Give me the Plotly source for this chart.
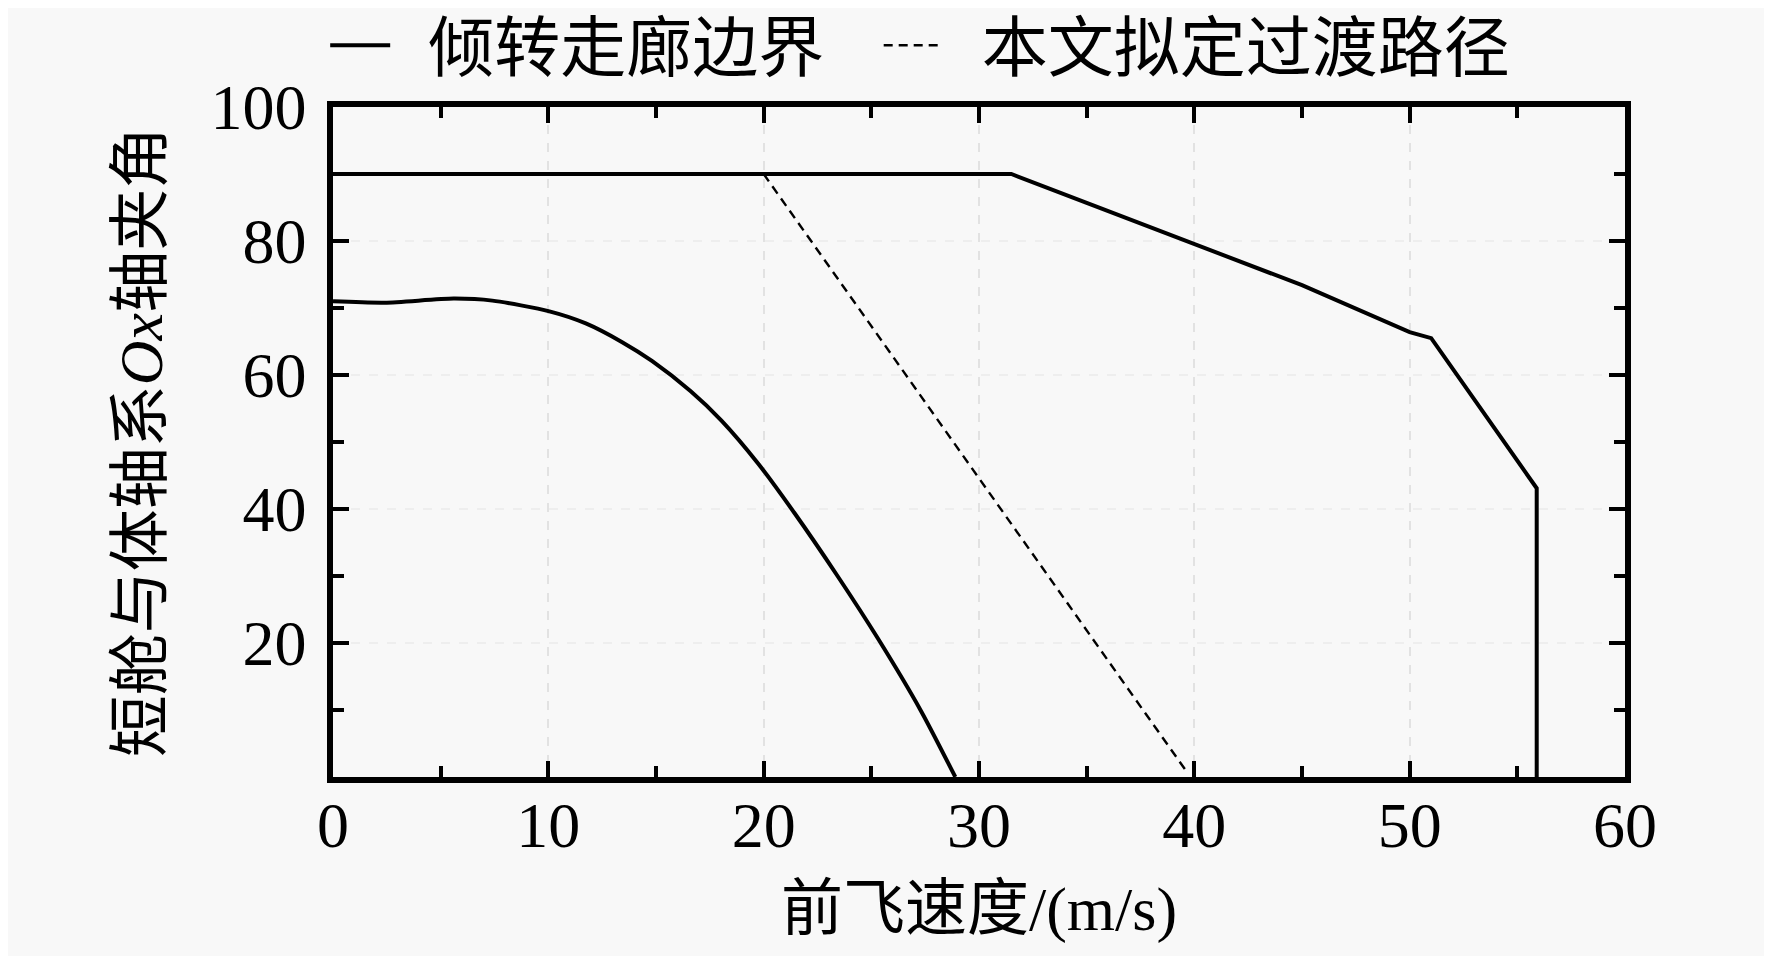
import plotly.graph_objects as go

# outer tilt corridor boundary (m/s, deg)
outer_v = [0, 31.5, 35, 40, 45, 50, 51, 55.9, 55.9]
outer_a = [90, 90, 85.7, 79.6, 73.4, 66.4, 65.5, 43.1, 0]

# inner tilt corridor boundary
inner_v = [0, 2.4, 5.6, 7.4, 10.05, 11.74, 13.43, 14.81, 16.6, 18.04, 19.74, 21.43, 23.43, 25.3, 27.3, 28.9]
inner_a = [71.0, 70.8, 71.4, 71.1, 69.5, 67.7, 64.9, 62.1, 57.6, 53.2, 46.8, 39.4, 30.0, 20.7, 9.9, 0]

# proposed transition path
path_v = [20, 39.6]
path_a = [90, 1]

x_ticks = [0, 10, 20, 30, 40, 50, 60]
y_ticks = [20, 40, 60, 80, 100]

FONT = "Liberation Serif, Noto Sans CJK SC"
BG = "#f8f8f8"
NB = "\u00a0"

fig = go.Figure()

fig.add_trace(go.Scatter(x=outer_v, y=outer_a, mode="lines", name=NB * 2 + "倾转走廊边界" + NB * 3,
                         line=dict(color="black", width=4)))
fig.add_trace(go.Scatter(x=inner_v, y=inner_a, mode="lines", showlegend=False,
                         line=dict(color="black", width=4, shape="spline", smoothing=0.7)))
fig.add_trace(go.Scatter(x=path_v, y=path_a, mode="lines", name=NB * 2 + "本文拟定过渡路径",
                         line=dict(color="black", width=2.4, dash="9px,6px")))

axis_common = dict(
    showline=True, linecolor="black", linewidth=5.5, mirror="allticks",
    ticks="inside", ticklen=16, tickwidth=3.5, tickcolor="black",
    showgrid=True, gridwidth=2, griddash="dash",
    zeroline=False,
    tickfont=dict(family=FONT, size=64, color="black"),
)

fig.update_xaxes(
    range=[0, 60], tickvals=x_ticks, gridcolor="#e2e2e2",
    minor=dict(dtick=5, ticks="inside", ticklen=11, tickwidth=3.5, tickcolor="black", showgrid=False),
    title=dict(text="前飞速度/(m/s)", font=dict(family=FONT, size=62, color="black"), standoff=29),
    ticklabelstandoff=-13,
    **axis_common,
)
fig.update_yaxes(
    range=[0, 100], tickvals=y_ticks, gridcolor="#eeeeee",
    minor=dict(dtick=10, ticks="inside", ticklen=11, tickwidth=3.5, tickcolor="black", showgrid=False),
    title=dict(text="短舱与体轴系<i>Ox</i>轴夹角", font=dict(family=FONT, size=62, color="black"), standoff=30),
    ticklabelstandoff=8,
    **axis_common,
)

fig.update_layout(
    width=1772, height=956,
    paper_bgcolor=BG, plot_bgcolor=BG,
    margin=dict(l=325, r=155, t=99, b=187, autoexpand=False),
    showlegend=True,
    legend=dict(orientation="h", xref="container", yref="container",
                x=0.179, xanchor="left", y=0.961, yanchor="middle",
                font=dict(family=FONT, size=66, color="black"),
                bgcolor="rgba(0,0,0,0)", itemwidth=60, tracegroupgap=0),
)

fig.write_html("out.html")
